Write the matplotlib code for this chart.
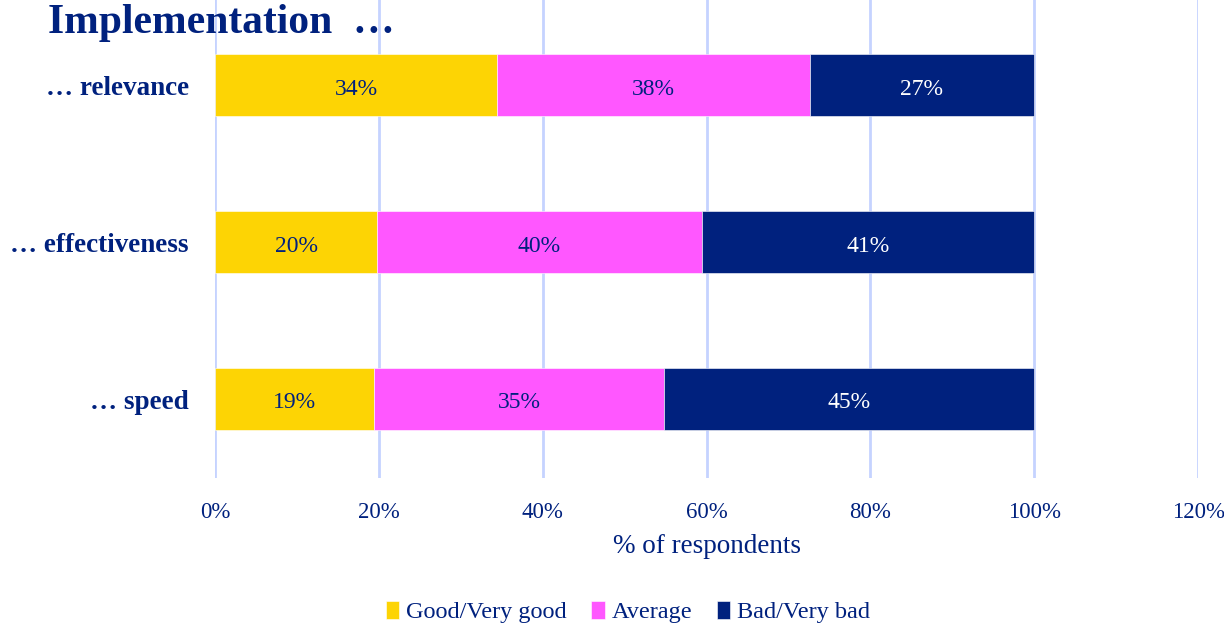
import matplotlib.pyplot as plt
import numpy as np

plt.rcParams['font.family'] = ['Liberation Serif', 'DejaVu Serif']

categories = ['… relevance', '… effectiveness', '… speed']
series_names = ['Good/Very good', 'Average', 'Bad/Very bad']
good = [34.4, 19.8, 19.4]
average = [38.2, 39.6, 35.4]
bad = [27.4, 40.6, 45.2]
labels = [['34%', '20%', '19%'], ['38%', '40%', '35%'], ['27%', '41%', '45%']]
colors = ['#FDD404', '#FF57FF', '#00217E']
text_colors = ['#00217E', '#00217E', 'white']
navy = '#00217E'

fig = plt.figure(figsize=(12.24, 6.26), dpi=100)
ax = fig.add_axes([0.1757, 0.2364, 0.8031, 0.7636])

y = np.arange(len(categories))
left = np.zeros(len(categories))
for vals, name, col, tc, lab in zip([good, average, bad], series_names, colors, text_colors, labels):
    bars = ax.barh(y, vals, left=left, height=0.395, color=col, label=name,
                   edgecolor='white', linewidth=0.4, zorder=3)
    # 数据标签放在每段中间
    for b, t in zip(bars, lab):
        ax.text(b.get_x() + b.get_width() / 2, b.get_y() + b.get_height() * 0.56, t,
                ha='center', va='center', color=tc, fontsize=17, zorder=4)
    left += np.array(vals)

ax.set_xlim(0, 120)
ax.set_ylim(2.503, -0.545)
ax.set_xticks(range(0, 121, 20))
ax.set_xticklabels([f'{v}%' for v in range(0, 121, 20)])
ax.set_yticks(y)
ax.set_yticklabels(categories, fontweight='bold', fontsize=19.5)
ax.tick_params(axis='x', length=0, pad=17, labelsize=16.5, labelcolor=navy)
ax.tick_params(axis='y', length=0, pad=19, labelcolor=navy)
ax.grid(axis='x', color='#C5D3FF', linewidth=2, zorder=0)
for s in ax.spines.values():
    s.set_visible(False)

ax.set_xlabel('% of respondents', fontsize=19.5, color=navy, labelpad=8)

fig.text(48 / 1224, 1 - 23 / 626, 'Implementation  …', fontsize=30, fontweight='bold',
         color=navy, va='center', ha='left')

fig.legend(loc='center', bbox_to_anchor=(628 / 1224, 1 - 612 / 626), ncol=3, frameon=False,
           fontsize=17.5, labelcolor=navy, handlelength=0.55, handleheight=0.8,
           handletextpad=0.3, columnspacing=1.0)

fig.savefig('out.png', dpi=100)
